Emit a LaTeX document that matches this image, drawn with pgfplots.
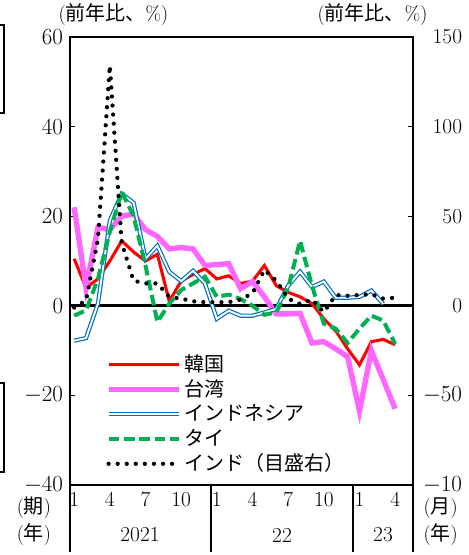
\documentclass[border=0pt]{standalone}
\usepackage{fontspec}
\newfontfamily\jp{Noto Sans CJK JP}
\usepackage{pgfplots}
\pgfplotsset{compat=1.18}

\definecolor{kor}{RGB}{255,0,0}
\definecolor{twn}{RGB}{255,102,255}
\definecolor{idn}{RGB}{0,112,192}
\definecolor{tha}{RGB}{0,176,80}

\begin{document}
\fontsize{15}{18}\selectfont
\begin{tikzpicture}
\pgfplotsset{
  common/.style={
    scale only axis, width=257.25pt, height=336pt,
    at={(0,0)}, anchor=south west,
    xmin=-0.35, xmax=28.5,
    axis line style={line width=2.2pt},
    tick align=inside, major tick length=4pt,
    tick style={black, line width=1pt},
    ticklabel style={font=\fontsize{16}{19}\selectfont},
  },
  indstyle/.style={black, line width=3.2pt, line cap=round, dash pattern=on 0pt off 6.8pt},
}
% left axis
\begin{axis}[common,
  ymin=-40, ymax=60, ytick={-40,-20,...,60},
  xtick={0,3,...,27}, xticklabels={1,4,7,10,1,4,7,10,1,4},
  x tick style={draw=none},
  clip=false,
  legend cell align=left,
  legend style={draw=none, fill=none, at={(0.104,0.298)}, anchor=north west,
    font=\fontsize{15}{18}\selectfont\jp, row sep=0pt, inner sep=0pt},
  legend image code/.code={\draw[#1] (0pt,0pt) -- (53pt,0pt);},
]
\draw[line width=2.5pt] (axis cs:-0.35,0) -- (axis cs:28.5,0);

% Korea
\addplot[kor, line width=2.3pt] coordinates {
(0,10.5)(1,4)(2,6)(3,10)(4,14.5)(5,12)(6,10)(7,11.5)(8,1)(9,5.5)
(10,7)(11,8.3)(12,6)(13,6.7)(14,5)(15,5.5)(16,9)(17,4.5)(18,3)(19,2)
(20,0.5)(21,-2.9)(22,-5.6)(23,-9.6)(24,-13.2)(25,-8)(26,-7.5)(27,-8.7)};
\addlegendentry{韓国}

% Taiwan
\addplot[twn, line width=4pt] coordinates {
(0,22)(1,4)(2,17.5)(3,17)(4,20)(5,20.5)(6,17)(7,15.5)(8,12.7)(9,13)
(10,12.7)(11,9)(12,9.2)(13,9.4)(14,3.8)(15,5.4)(16,2)(17,-1.8)(18,-1.8)(19,-1.7)
(20,-8.3)(21,-8)(22,-9.6)(23,-11.4)(24,-23.5)(25,-10)(26,-16.5)(27,-23)};
\addlegendentry{台湾}

% Indonesia
\addplot[idn, line width=0.9pt, double=white, double distance=1.4pt] coordinates {
(0,-7.8)(1,-7.2)(2,0.5)(3,19)(4,25)(5,23)(6,10.5)(7,13.4)(8,7.6)(9,5.5)
(10,7.8)(11,5)(12,-2.9)(13,-1.1)(14,-2.2)(15,-2.2)(16,-1.5)(17,-0.7)(18,4.5)(19,7.6)
(20,4.2)(21,5.4)(22,1.8)(23,1.8)(24,2)(25,3.4)(26,0.4)};
\addlegendentry{インドネシア}

% Thailand
\addplot[tha, line width=3pt, dash pattern=on 8pt off 3.5pt] coordinates {
(0,-2.2)(1,-1)(2,6)(3,16.5)(4,25.5)(5,20)(6,9)(7,-3.6)(8,0.5)(9,3.5)
(10,5)(11,6.5)(12,2)(13,2.5)(14,1.5)(15,0)(16,-2)(17,-1.5)(18,4)(19,14.5)
(20,4.5)(21,-4)(22,-5.1)(23,-8.3)(24,-5.1)(25,-2.2)(26,-3.3)(27,-8.5)};
\addlegendentry{タイ}

\addlegendimage{indstyle}
\addlegendentry{インド（目盛右）}
\end{axis}

% right axis (India); the lowest label is cut to "-10" in the source image
\begin{axis}[common,
  ymin=-100, ymax=150, ytick={-100,-50,...,150},
  yticklabels={$-10$,$-50$,0,50,100,150},
  axis y line*=right, axis x line=none,
  yticklabel style={anchor=east, xshift=42pt},
]
\addplot[indstyle] coordinates {
(0,-1)(1,3)(2,37)(3,134)(4,35)(5,14)(6,12.5)(7,12.5)(8,5)(9,4)
(10,2.5)(11,2)(12,2)(13,2)(14,3.5)(15,7)(16,20)(17,14)(18,4)(19,1)
(20,3.5)(21,-3.5)(22,6)(23,5.6)(24,6)(25,6.5)(26,4)(27,4.5)};
\end{axis}

% period separators and labels below the axis
\foreach \x in {0,105.75,212.25,257.25}
  \draw[line width=2.2pt] (\x pt,0) -- (\x pt,-50pt);
\begin{scope}[font=\fontsize{16}{19}\selectfont]
\node at (52.5pt,-37.5pt) {2021};
\node at (159pt,-37.5pt) {22};
\node at (234.75pt,-37.5pt) {23};
\end{scope}
\begin{scope}[inner sep=0pt]
\node at (-27pt,-17pt) {(\jp 期\rmfamily)};
\node at (-27pt,-37pt) {(\jp 年\rmfamily)};
\node at (278pt,-17pt) {(\jp 月\rmfamily)};
\node at (278pt,-37pt) {(\jp 年\rmfamily)};
\end{scope}

% unit labels
\node at (32.6pt,352.5pt) {(\jp 前年比、\rmfamily\%)};
\node at (226.9pt,352.5pt) {(\jp 前年比、\rmfamily\%)};

% frame fragments at the left edge
\draw[line width=1.1pt] (-52.5pt,345pt) -- (-49.5pt,345pt) -- (-49.5pt,279pt) -- (-52.5pt,279pt);
\draw[line width=1.1pt] (-52.5pt,76.5pt) -- (-49.5pt,76.5pt) -- (-49.5pt,9.75pt) -- (-52.5pt,9.75pt);

\pgfresetboundingbox
\path (-52.5pt,-52.5pt) rectangle (298.5pt,363.75pt);
\end{tikzpicture}
\end{document}
